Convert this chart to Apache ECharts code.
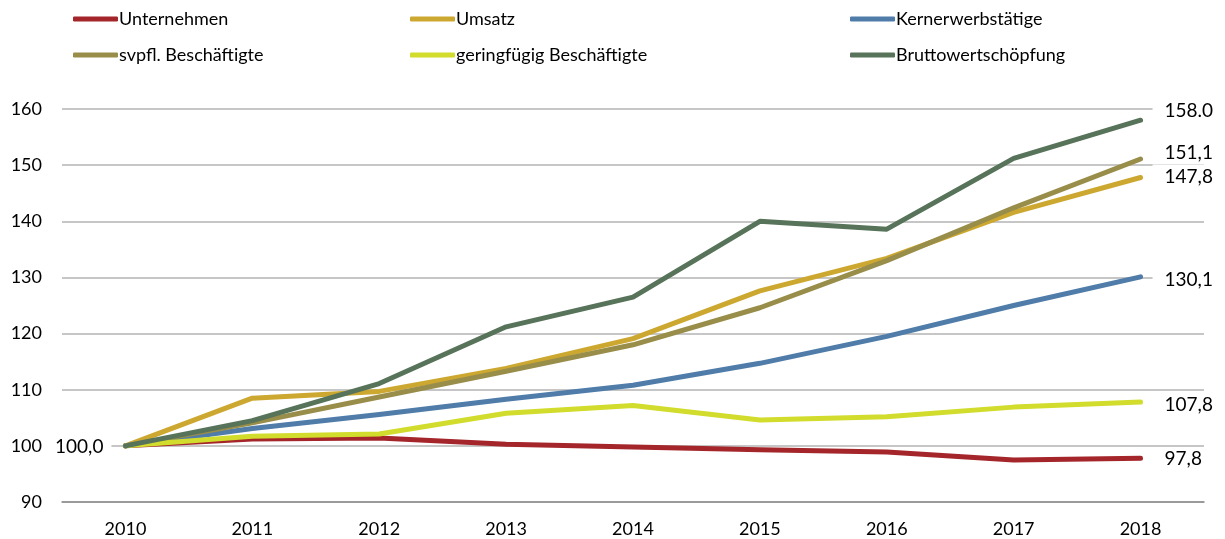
<!DOCTYPE html>
<html>
<head>
<meta charset="utf-8">
<script src="https://cdn.jsdelivr.net/npm/echarts@6/dist/echarts.min.js"></script>
<style>
  html, body { margin: 0; padding: 0; background: #ffffff; }
  #chart { width: 1225px; height: 539px; }
</style>
</head>
<body>
<div id="chart"></div>
<script>
// Index values, 2010 = 100
const years = ['2010', '2011', '2012', '2013', '2014', '2015', '2016', '2017', '2018'];
const unternehmen = [100, 101.2, 101.4, 100.3, 99.8, 99.3, 98.9, 97.5, 97.8];
const umsatz = [100, 108.5, 109.7, 113.8, 119.1, 127.6, 133.4, 141.6, 147.8];
const kernerwerbstaetige = [100, 103.1, 105.6, 108.3, 110.8, 114.7, 119.5, 125.0, 130.1];
const svpfl = [100, 104.1, 108.7, 113.3, 118.0, 124.6, 133.0, 142.4, 151.1];
const geringfuegig = [100, 101.7, 102.1, 105.8, 107.2, 104.6, 105.2, 106.9, 107.8];
const brutto = [100, 104.5, 111.1, 121.2, 126.5, 140.0, 138.6, 151.2, 158.0];

const seriesNames = ['Unternehmen', 'Umsatz', 'Kernerwerbstätige', 'svpfl. Beschäftigte', 'geringfügig Beschäftigte', 'Bruttowertschöpfung'];
const seriesData = [unternehmen, umsatz, kernerwerbstaetige, svpfl, geringfuegig, brutto];
const seriesColors = ['#A4262B', '#CDA830', '#4F7CA8', '#998D4A', '#D2DC2C', '#577359'];
// decimal separator used in each end label
const decimalSep = [',', ',', ',', ',', ',', '.'];
// vertical nudge of each series' labels (px)
const labelShift = [1, -1, 3, -6, 3, -9];

const FONT = 'Lato, "Open Sans", sans-serif';
const fmt = (v, sep) => v.toFixed(1).replace('.', sep);

const chart = echarts.init(document.getElementById('chart'), null, { renderer: 'canvas' });

const legendBase = {
  orient: 'vertical',
  itemWidth: 45,
  itemHeight: 5,
  itemGap: 18,
  icon: 'roundRect',
  textStyle: { fontFamily: FONT, fontSize: 18, color: '#000', padding: [0, 0, 0, -4] },
  selectedMode: false
};

const series = seriesNames.map((name, i) => {
  const last = seriesData[i].length - 1;
  const data = seriesData[i].map((v, j) => {
    if (j === last) {
      return {
        value: v,
        label: {
          show: true,
          position: 'right',
          distance: 12,
          formatter: p => fmt(p.value, decimalSep[i]),
          fontFamily: FONT, fontSize: 19, color: '#000',
          backgroundColor: '#fff',
          padding: [2, 30, 2, 12]
        }
      };
    }
    if (j === 0 && i === 0) {
      return {
        value: v,
        label: {
          show: true,
          position: 'left',
          distance: 14,
          formatter: p => fmt(p.value, ','),
          fontFamily: FONT, fontSize: 19, color: '#000',
          backgroundColor: '#fff',
          padding: [2, 8, 2, 4]
        }
      };
    }
    return v;
  });
  return {
    name,
    type: 'line',
    data,
    symbol: 'circle',
    symbolSize: 0,
    showSymbol: true,
    smooth: false,
    lineStyle: { width: 5, color: seriesColors[i], cap: 'round', join: 'round' },
    itemStyle: { color: seriesColors[i] },
    labelLayout: { hideOverlap: false, dy: labelShift[i] },
    clip: false,
    z: 2 + i,
    animation: false
  };
});

chart.setOption({
  animation: false,
  color: seriesColors,
  legend: [
    Object.assign({}, legendBase, { left: 68, top: 5, data: ['Unternehmen', 'svpfl. Beschäftigte'] }),
    Object.assign({}, legendBase, { left: 405, top: 5, data: ['Umsatz', 'geringfügig Beschäftigte'] }),
    Object.assign({}, legendBase, { left: 845, top: 5, data: ['Kernerwerbstätige', 'Bruttowertschöpfung'] })
  ],
  grid: { left: 62, right: 21, top: 109, bottom: 37, containLabel: false },
  xAxis: {
    type: 'category',
    data: years,
    boundaryGap: true,
    axisLine: { show: true, lineStyle: { color: '#8C8C8C', width: 1.5 } },
    axisTick: { show: false },
    axisLabel: { fontFamily: FONT, fontSize: 18, color: '#000', margin: 18 },
    splitLine: { show: false }
  },
  yAxis: {
    type: 'value',
    min: 90,
    max: 160,
    interval: 10,
    axisLine: { show: false },
    axisTick: { show: false },
    axisLabel: { fontFamily: FONT, fontSize: 18, color: '#000', margin: 20 },
    splitLine: { lineStyle: { color: '#B3B3B3', width: 1.5 } }
  },
  series
});
</script>
</body>
</html>
